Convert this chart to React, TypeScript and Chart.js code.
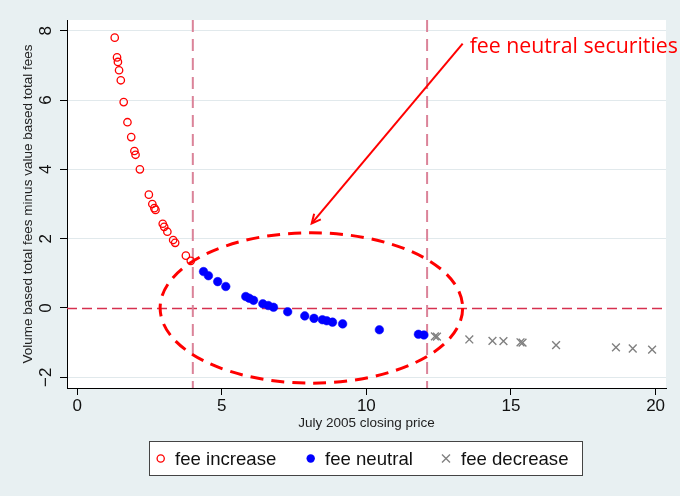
import React, { useEffect, useRef } from 'react';
import { Chart, registerables } from 'chart.js';
Chart.register(...registerables);

// ---- data ----
const incX = [1.30, 1.38, 1.41, 1.45, 1.51, 1.61, 1.74, 1.87, 1.98, 2.02, 2.17, 2.48, 2.60, 2.67, 2.71, 2.96, 3.01, 3.12, 3.32, 3.39, 3.76, 3.93];
const incY = [7.80, 7.23, 7.10, 6.86, 6.57, 5.94, 5.36, 4.93, 4.53, 4.42, 4.00, 3.27, 3.00, 2.88, 2.83, 2.43, 2.34, 2.20, 1.96, 1.88, 1.51, 1.36];
const neuX = [4.37, 4.54, 4.86, 5.14, 5.83, 5.95, 6.10, 6.42, 6.61, 6.79, 7.28, 7.87, 8.19, 8.48, 8.63, 8.83, 9.18, 10.45, 11.80, 11.99];
const neuY = [1.05, 0.93, 0.76, 0.62, 0.33, 0.28, 0.22, 0.12, 0.07, 0.02, -0.11, -0.23, -0.30, -0.34, -0.37, -0.41, -0.46, -0.63, -0.76, -0.78];
const decX = [12.37, 12.44, 13.56, 14.36, 14.74, 15.33, 15.40, 16.56, 18.63, 19.21, 19.88];
const decY = [-0.82, -0.83, -0.91, -0.95, -0.96, -0.99, -1.00, -1.07, -1.14, -1.17, -1.20];

const seriesNames = ['fee increase', 'fee neutral', 'fee decrease'];
const xTicks = [0, 5, 10, 15, 20];
const yTicks = [-2, 0, 2, 4, 6, 8];
const xRefLines = [4, 12.1];
const yRefLines = [0];
const xTitle = 'July 2005 closing price';
const yTitle = 'Volume based total fees minus value based total fees';
const noteText = 'fee neutral securities';
const ellipseCenter = [8.1, 0];
const ellipseRadii = [5.23, 2.17];
const arrowFrom = [13.33, 7.63];
const arrowTo = [8.11, 2.44];

const fmt = (v: number) => (v < 0 ? '\u2212' + Math.abs(v) : String(v));
const SANS = '"Liberation Sans", Arial, sans-serif';

const pts = (xs: number[], ys: number[]) => xs.map((x, i) => ({ x, y: ys[i] }));

export default function App() {
  const ref = useRef<HTMLCanvasElement | null>(null);
  useEffect(() => {
    if (!ref.current) return;
    const deco = {
      id: 'deco',
      beforeDraw(chart: any) {
        const { ctx, chartArea: a } = chart;
        ctx.save();
        ctx.fillStyle = '#E8F0F2';
        ctx.fillRect(0, 0, chart.width, chart.height);
        ctx.fillStyle = '#FFFFFF';
        ctx.fillRect(a.left, a.top, a.right - a.left, a.bottom - a.top);
        ctx.restore();
      },
      beforeDatasetsDraw(chart: any) {
        const { ctx, chartArea: a, scales } = chart;
        const xs = scales.x, ys = scales.y;
        ctx.save();
        ctx.beginPath();
        ctx.rect(a.left, a.top, a.right - a.left, a.bottom - a.top);
        ctx.clip();
        ctx.strokeStyle = '#D6304F';
        ctx.lineWidth = 1.3;
        ctx.setLineDash([10, 5]);
        yRefLines.forEach((v) => {
          const py = Math.round(ys.getPixelForValue(v)) + 0.5;
          ctx.beginPath();
          ctx.moveTo(a.left, py);
          ctx.lineTo(a.right, py);
          ctx.stroke();
        });
        ctx.strokeStyle = '#DB8399';
        ctx.lineWidth = 2;
        ctx.setLineDash([12, 7]);
        xRefLines.forEach((v) => {
          const px = xs.getPixelForValue(v);
          ctx.beginPath();
          ctx.moveTo(px, a.top);
          ctx.lineTo(px, a.bottom);
          ctx.stroke();
        });
        ctx.restore();
      },
      afterDatasetsDraw(chart: any) {
        const { ctx, scales } = chart;
        const xs = scales.x, ys = scales.y;
        ctx.save();
        // ellipse
        const cx = xs.getPixelForValue(ellipseCenter[0]);
        const cy = ys.getPixelForValue(ellipseCenter[1]);
        const rx = xs.getPixelForValue(ellipseCenter[0] + ellipseRadii[0]) - cx;
        const ry = cy - ys.getPixelForValue(ellipseCenter[1] + ellipseRadii[1]);
        ctx.strokeStyle = '#FF0000';
        ctx.lineWidth = 3;
        ctx.setLineDash([13, 8]);
        ctx.beginPath();
        ctx.ellipse(cx, cy, rx, ry, 0, 0, Math.PI * 2);
        ctx.stroke();
        // arrow
        const x1 = xs.getPixelForValue(arrowFrom[0]);
        const y1 = ys.getPixelForValue(arrowFrom[1]);
        const x2 = xs.getPixelForValue(arrowTo[0]);
        const y2 = ys.getPixelForValue(arrowTo[1]);
        ctx.setLineDash([]);
        ctx.lineWidth = 2;
        ctx.beginPath();
        ctx.moveTo(x1, y1);
        ctx.lineTo(x2, y2);
        ctx.stroke();
        const ang = Math.atan2(y2 - y1, x2 - x1);
        const hl = 10;
        ctx.beginPath();
        ctx.moveTo(x2 - hl * Math.cos(ang - 0.45), y2 - hl * Math.sin(ang - 0.45));
        ctx.lineTo(x2, y2);
        ctx.lineTo(x2 - hl * Math.cos(ang + 0.45), y2 - hl * Math.sin(ang + 0.45));
        ctx.stroke();
        // note text
        ctx.fillStyle = '#FF0000';
        ctx.font = '21.3px "Open Sans", sans-serif';
        ctx.textAlign = 'left';
        ctx.textBaseline = 'alphabetic';
        ctx.fillText(noteText, x1 + 7, y1 + 9);
        ctx.restore();
      },
      afterDraw(chart: any) {
        const { ctx, chartArea: a, scales } = chart;
        const ys = scales.y;
        ctx.save();
        // y tick labels (rotated)
        ctx.fillStyle = '#111';
        ctx.font = '17px ' + SANS;
        ctx.textAlign = 'center';
        ctx.textBaseline = 'middle';
        yTicks.forEach((v) => {
          const py = ys.getPixelForValue(v);
          ctx.save();
          ctx.translate(46, py);
          ctx.rotate(-Math.PI / 2);
          ctx.fillText(fmt(v), 0, 0);
          ctx.restore();
        });
        // axis titles
        ctx.font = '13.5px ' + SANS;
        ctx.fillStyle = '#222';
        ctx.fillText(xTitle, (a.left + a.right) / 2, 423);
        ctx.save();
        ctx.translate(28, (a.top + a.bottom) / 2);
        ctx.rotate(-Math.PI / 2);
        ctx.fillText(yTitle, 0, 0);
        ctx.restore();
        // legend
        ctx.fillStyle = '#FFFFFF';
        ctx.fillRect(149.5, 441.5, 433, 34);
        ctx.strokeStyle = '#444';
        ctx.lineWidth = 1;
        ctx.strokeRect(149.5, 441.5, 433, 34);
        const ly = 458.5;
        ctx.strokeStyle = '#FF0000';
        ctx.lineWidth = 1.3;
        ctx.beginPath();
        ctx.arc(160.7, ly, 3.6, 0, Math.PI * 2);
        ctx.stroke();
        ctx.fillStyle = '#0000FF';
        ctx.beginPath();
        ctx.arc(310.7, ly, 4.2, 0, Math.PI * 2);
        ctx.fill();
        ctx.strokeStyle = '#808080';
        ctx.lineWidth = 1.4;
        ctx.beginPath();
        ctx.moveTo(442, ly - 4); ctx.lineTo(450, ly + 4);
        ctx.moveTo(450, ly - 4); ctx.lineTo(442, ly + 4);
        ctx.stroke();
        ctx.fillStyle = '#111';
        ctx.font = '18.6px ' + SANS;
        ctx.textAlign = 'left';
        ctx.textBaseline = 'middle';
        const lx = [175, 325, 461];
        seriesNames.forEach((n, i) => ctx.fillText(n, lx[i], ly + 1));
        ctx.restore();
      },
    };

    const chart = new Chart(ref.current, {
      type: 'scatter',
      data: {
        datasets: [
          {
            label: seriesNames[0],
            data: pts(incX, incY),
            pointStyle: 'circle',
            pointRadius: 3.7,
            pointBorderWidth: 1.3,
            borderColor: '#FF0000',
            backgroundColor: 'rgba(0,0,0,0)',
          },
          {
            label: seriesNames[1],
            data: pts(neuX, neuY),
            pointStyle: 'circle',
            pointRadius: 4.3,
            pointBorderWidth: 0.5,
            borderColor: '#0000FF',
            backgroundColor: '#0000FF',
          },
          {
            label: seriesNames[2],
            data: pts(decX, decY),
            pointStyle: 'crossRot',
            pointRadius: 5.5,
            pointBorderWidth: 1.4,
            borderColor: '#808080',
            backgroundColor: '#808080',
          },
        ],
      },
      options: {
        responsive: false,
        animation: false,
        devicePixelRatio: 1,
        layout: { padding: { top: 20, right: 14, left: 0, bottom: 0 } },
        plugins: { legend: { display: false }, tooltip: { enabled: false } },
        scales: {
          x: {
            type: 'linear',
            min: -0.35,
            max: 20.36,
            afterBuildTicks: (s: any) => { s.ticks = xTicks.map((v) => ({ value: v })); },
            afterFit: (s: any) => { s.height = 108; },
            ticks: {
              color: '#111',
              font: { family: SANS, size: 17 },
              padding: 1,
              maxRotation: 0,
              callback: (v: any) => fmt(Number(v)),
            },
            grid: { drawOnChartArea: false, drawTicks: true, tickLength: 7, tickColor: '#000', lineWidth: 1 },
            border: { display: true, color: '#000', width: 1 },
          },
          y: {
            type: 'linear',
            min: -2.31,
            max: 8.31,
            afterBuildTicks: (s: any) => { s.ticks = yTicks.map((v) => ({ value: v })); },
            afterFit: (s: any) => { s.width = 67; },
            ticks: { display: false },
            grid: {
              color: (c: any) => (c.tick && c.tick.value === 0 ? 'rgba(0,0,0,0)' : '#E1E9EC'),
              drawTicks: true,
              tickLength: 7,
              tickColor: '#000',
              lineWidth: 1,
            },
            border: { display: true, color: '#000', width: 1 },
          },
        },
      },
      plugins: [deco],
    } as any);
    return () => chart.destroy();
  }, []);

  return (
    <div style={{ position: 'absolute', left: 0, top: 0, width: 680, height: 496 }}>
      <canvas ref={ref} width={680} height={496} style={{ width: 680, height: 496, display: 'block' }} />
    </div>
  );
}
